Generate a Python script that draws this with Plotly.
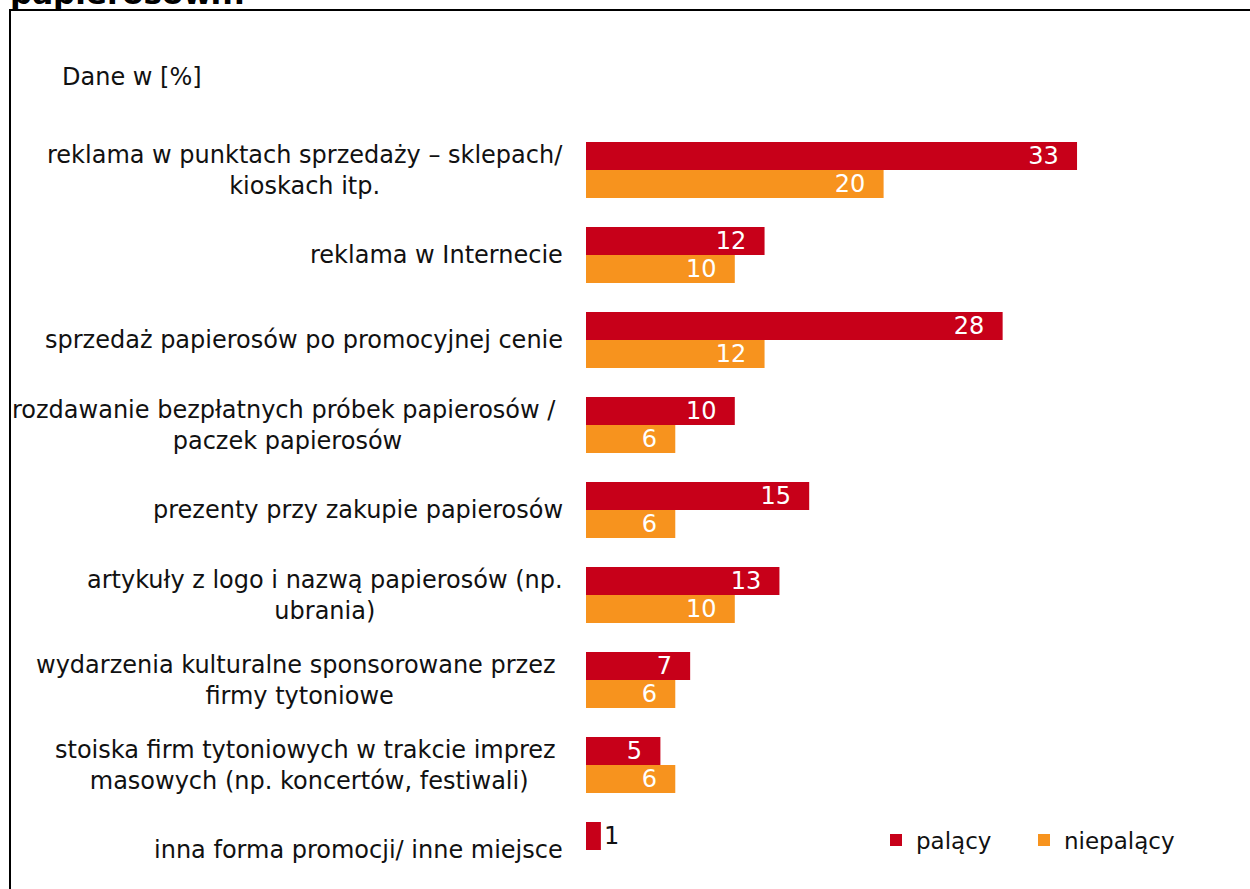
import plotly.graph_objects as go

# Kategorie promocji (etykiety z ręcznym łamaniem wierszy; twarda spacja
# na końcu wiersza tam, gdzie tekst łamie się po spacji)
categories = [
    "reklama w punktach sprzedaży – sklepach/<br>kioskach itp.",
    "reklama w Internecie",
    "sprzedaż papierosów po promocyjnej cenie",
    "rozdawanie bezpłatnych próbek papierosów /\u00a0<br>paczek papierosów",
    "prezenty przy zakupie papierosów",
    "artykuły z logo i nazwą papierosów (np.<br>ubrania)",
    "wydarzenia kulturalne sponsorowane przez\u00a0<br>firmy tytoniowe",
    "stoiska firm tytoniowych w trakcie imprez\u00a0<br>masowych (np. koncertów, festiwali)",
    "inna forma promocji/ inne miejsce",
]
palacy = [33, 12, 28, 10, 15, 13, 7, 5, 1]
niepalacy = [20, 10, 12, 6, 6, 10, 6, 6, None]

series_names = ["palący", "niepalący"]
title_tail = "papierosów..."
unit_note = "Dane w [%]"

RED = "#C70019"
ORANGE = "#F7931E"
FONT = "DejaVu Sans, Verdana, sans-serif"

W, H = 1250, 889
M_L, M_R, M_T, M_B = 586, 0, 120, 0
PLOT_W = W - M_L - M_R
PLOT_H = H - M_T - M_B
PX_PER_UNIT = 14.88      # szerokość 1 p.p. na osi X
PX_PER_CAT = 85.0        # odstęp między kategoriami
FIRST_CAT_Y = 170.0      # środek pierwszej kategorii (px od góry)

x_max = PLOT_W / PX_PER_UNIT
y_top = -(FIRST_CAT_Y - M_T) / PX_PER_CAT
y_bottom = y_top + PLOT_H / PX_PER_CAT


def px_to_paper_x(px):
    return (px - M_L) / PLOT_W


def px_to_paper_y(py):
    return (H - M_B - py) / PLOT_H


def bar_text(values):
    return [None if v is None else f"{v}\u00a0\u00a0" for v in values]


def bar_textpos(values):
    return ["outside" if (v is not None and v < 3) else "inside" for v in values]


fig = go.Figure()
for name, vals, color, leg in [(series_names[0], palacy, RED, "legend"),
                               (series_names[1], niepalacy, ORANGE, "legend2")]:
    fig.add_trace(go.Bar(
        y=categories, x=vals, name=name, orientation="h", legend=leg,
        marker=dict(color=color, line=dict(width=0)),
        text=bar_text(vals), textposition=bar_textpos(vals),
        insidetextanchor="end", constraintext="none",
        insidetextfont=dict(color="white", size=24, family=FONT),
        outsidetextfont=dict(color="#111111", size=24, family=FONT),
        cliponaxis=False, hoverinfo="skip",
    ))

# Etykiety kategorii — wyśrodkowane wiersze, wyrównane do prawej krawędzi
annotations = []
for cat in categories:
    annotations.append(dict(
        xref="paper", yref="y", x=px_to_paper_x(565), y=cat,
        text=cat, showarrow=False, xanchor="right", yanchor="middle",
        align="center", font=dict(size=24, color="#111111", family=FONT),
    ))

annotations.append(dict(
    xref="paper", yref="paper", x=px_to_paper_x(60), y=px_to_paper_y(77),
    text=unit_note, showarrow=False, xanchor="left", yanchor="middle",
    font=dict(size=24, color="#111111", family=FONT),
))

annotations.append(dict(
    xref="paper", yref="paper", x=px_to_paper_x(8), y=px_to_paper_y(13),
    text=f"<b>{title_tail}</b>", showarrow=False, xanchor="left", yanchor="bottom",
    font=dict(size=31, color="#000000", family=FONT),
))

shapes = [dict(
    type="rect", xref="paper", yref="paper",
    x0=px_to_paper_x(10), x1=px_to_paper_x(W + 20),
    y0=px_to_paper_y(H + 20), y1=px_to_paper_y(10),
    line=dict(color="#000000", width=2), fillcolor="rgba(0,0,0,0)", layer="below",
)]


def legend_box(px_left):
    return dict(orientation="h", x=px_to_paper_x(px_left), xanchor="left",
                y=px_to_paper_y(840), yanchor="middle",
                font=dict(size=23, family=FONT, color="#111111"),
                bgcolor="rgba(0,0,0,0)")


fig.update_layout(
    width=W, height=H,
    margin=dict(l=M_L, r=M_R, t=M_T, b=M_B, pad=0),
    paper_bgcolor="white", plot_bgcolor="white",
    barmode="group", bargap=0.341, bargroupgap=0,
    font=dict(family=FONT, size=24, color="#111111"),
    xaxis=dict(range=[0, x_max], visible=False, fixedrange=True),
    yaxis=dict(type="category", categoryorder="array", categoryarray=categories,
               range=[y_bottom, y_top], visible=False, fixedrange=True),
    legend=legend_box(876),
    legend2=legend_box(1024),
    annotations=annotations, shapes=shapes,
    showlegend=True,
)

fig.write_html("out.html", config={"displayModeBar": False})
